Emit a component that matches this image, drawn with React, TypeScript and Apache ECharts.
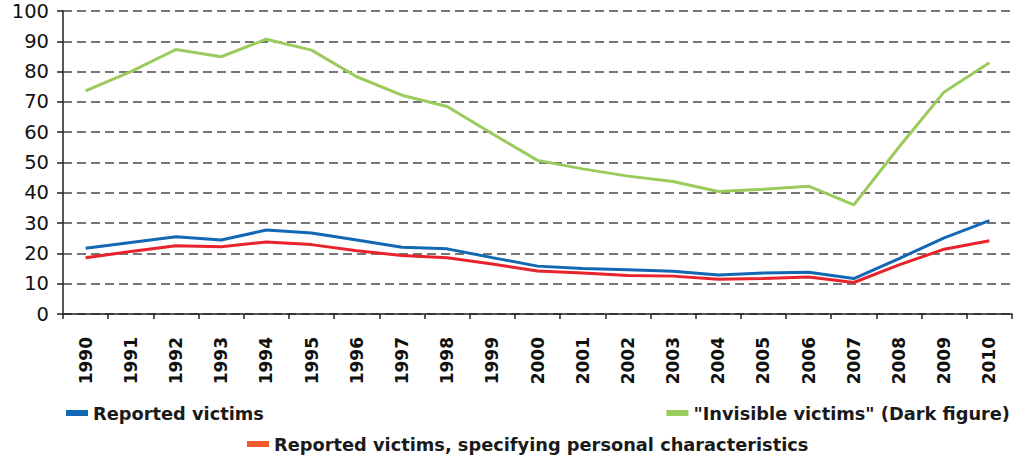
import React, { useEffect, useRef } from "react";
import * as echarts from "echarts";

const years = ["1990","1991","1992","1993","1994","1995","1996","1997","1998","1999","2000","2001","2002","2003","2004","2005","2006","2007","2008","2009","2010"];
const reported = [21.7,23.6,25.5,24.4,27.7,26.7,24.4,22.0,21.5,18.6,15.8,15.0,14.6,14.1,12.9,13.5,13.8,11.7,18.3,25.1,30.8];
const invisible = [73.6,80.0,87.3,84.9,90.7,87.1,78.3,72.2,68.5,59.5,50.7,47.9,45.5,43.7,40.4,41.2,42.2,36.0,55.1,73.3,82.9];
const specifying = [18.6,20.6,22.5,22.2,23.8,22.9,20.9,19.3,18.6,16.5,14.2,13.5,12.7,12.5,11.5,11.7,12.2,10.4,16.2,21.4,24.2];

const nameReported = "Reported victims";
const nameInvisible = "\"Invisible victims\" (Dark figure)";
const nameSpecifying = "Reported victims, specifying personal characteristics";

const BLUE = "#1368b4";
const GREEN = "#9acb5c";
const RED = "#e8232c";
const RED_LEGEND = "#f05a2a";

export default function App() {
  const ref = useRef<HTMLDivElement>(null);
  useEffect(() => {
    if (!ref.current) return;
    const chart = echarts.init(ref.current, null, { renderer: "svg" });
    const legendText = {
      fontFamily: "DejaVu Sans",
      fontWeight: "bold" as const,
      fontSize: 17.8,
      color: "#1a1a1a",
      lineHeight: 20,
    };
    chart.setOption({
      animation: false,
      backgroundColor: "#ffffff",
      grid: { left: 63, right: 4, top: 11, bottom: 144, containLabel: false },
      legend: [
        {
          left: 66, top: 403, padding: 0, itemWidth: 22, itemHeight: 6, icon: "rect",
          textStyle: legendText,
          data: [{ name: nameReported, itemStyle: { color: BLUE } }],
        },
        {
          right: 6, top: 403, padding: 0, itemWidth: 22, itemHeight: 6, icon: "rect",
          textStyle: legendText,
          data: [{ name: nameInvisible, itemStyle: { color: GREEN } }],
        },
        {
          left: 247, top: 434, padding: 0, itemWidth: 22, itemHeight: 6, icon: "rect",
          textStyle: legendText,
          data: [{ name: nameSpecifying, itemStyle: { color: RED_LEGEND } }],
        },
      ],
      xAxis: {
        type: "category",
        data: years,
        boundaryGap: true,
        axisLine: { show: true, lineStyle: { color: "#222", width: 1.5 } },
        axisTick: { show: true, length: 5, lineStyle: { color: "#222", width: 1.5 } },
        axisLabel: {
          rotate: 90,
          margin: 23,
          interval: 0,
          fontFamily: "DejaVu Sans",
          fontWeight: "bold",
          fontSize: 17,
          color: "#111",
        },
        splitLine: { show: false },
      },
      yAxis: {
        type: "value",
        min: 0,
        max: 100,
        interval: 10,
        axisLine: { show: true, lineStyle: { color: "#222", width: 1.5 } },
        axisTick: { show: true, length: 6, lineStyle: { color: "#222", width: 1.5 } },
        axisLabel: {
          margin: 14,
          fontFamily: "DejaVu Sans",
          fontSize: 19.5,
          color: "#111",
        },
        splitLine: {
          show: true,
          lineStyle: { color: "#4a4a4a", width: 1.5, type: [9, 5] },
        },
      },
      series: [
        {
          name: nameReported, type: "line", data: reported, symbol: "none",
          lineStyle: { color: BLUE, width: 3 }, itemStyle: { color: BLUE }, z: 3,
        },
        {
          name: nameInvisible, type: "line", data: invisible, symbol: "none",
          lineStyle: { color: GREEN, width: 3 }, itemStyle: { color: GREEN }, z: 2,
        },
        {
          name: nameSpecifying, type: "line", data: specifying, symbol: "none",
          lineStyle: { color: RED, width: 3 }, itemStyle: { color: RED }, z: 4,
        },
      ],
    });
    return () => chart.dispose();
  }, []);
  return (
    <div
      ref={ref}
      style={{ position: "fixed", left: 0, top: 0, width: 1016, height: 458 }}
    />
  );
}
